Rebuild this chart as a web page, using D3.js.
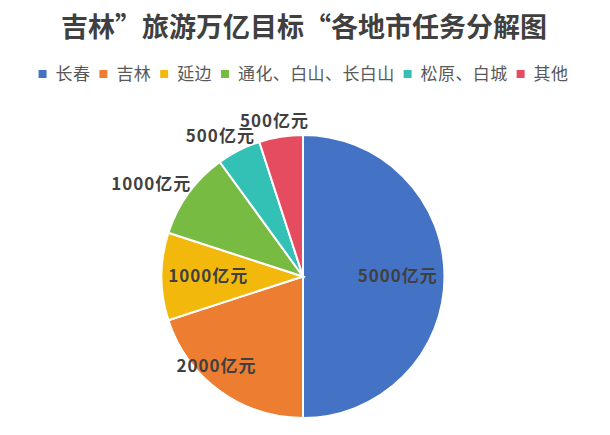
<!DOCTYPE html>
<html>
<head>
<meta charset="utf-8">
<script src="https://cdn.jsdelivr.net/npm/d3@7"></script>
<style>
  html, body { margin: 0; padding: 0; background: #fff; }
  svg { display: block; }
</style>
</head>
<body>
<svg id="chart" width="610" height="435"></svg>
<script>
const title      = '吉林”旅游万亿目标“各地市任务分解图';
const regions    = ['长春', '吉林', '延边', '通化、白山、长白山', '松原、白城', '其他'];
const targets    = [5000, 2000, 1000, 1000, 500, 500];
const colors     = ['#4472C4', '#ED7D31', '#F2B90C', '#78BB42', '#33C0B5', '#E54C5F'];
const labelModes = ['inside', 'edge', 'inside', 'outside', 'outside', 'outside'];

const width  = 610;
const height = 435;
const cx     = 303;
const cy     = 276.5;
const radius = 141.5;

const svg = d3.select('#chart');

svg.append('text')
  .attr('x', 304)
  .attr('y', 37)
  .attr('text-anchor', 'middle')
  .style('font-family', '"Noto Sans CJK SC", sans-serif')
  .style('font-size', '27px')
  .style('font-weight', 'bold')
  .style('fill', '#404040')
  .text(title);

// legend, laid out left to right then centred
const legend = svg.append('g');
let lx = 0;
regions.forEach((name, i) => {
  const item = legend.append('g').attr('transform', `translate(${lx},0)`);
  item.append('rect')
    .attr('x', 0).attr('y', -4)
    .attr('width', 8).attr('height', 8)
    .style('fill', colors[i]);
  const t = item.append('text')
    .attr('x', 17)
    .attr('y', 0)
    .attr('dy', '0.35em')
    .style('font-family', '"Noto Sans CJK SC", sans-serif')
    .style('font-size', '17px')
    .style('letter-spacing', '0.4px')
    .style('fill', '#595959')
    .text(name);
  lx += 17 + t.node().getComputedTextLength() + 9;
});
const legendWidth = lx - 9;
legend.attr('transform', `translate(${303.5 - legendWidth / 2},74)`);

const pie = d3.pie().sort(null).value(d => d);
const arcs = pie(targets);
const arc  = d3.arc().innerRadius(0).outerRadius(radius);

const g = svg.append('g').attr('transform', `translate(${cx},${cy})`);

g.selectAll('path.slice')
  .data(arcs)
  .enter()
  .append('path')
  .attr('class', 'slice')
  .attr('d', arc)
  .style('fill', (d, i) => colors[i])
  .style('stroke', '#fff')
  .style('stroke-width', 2);

const labels = g.selectAll('text.lbl')
  .data(arcs)
  .enter()
  .append('text')
  .attr('class', 'lbl')
  .attr('text-anchor', 'middle')
  .attr('dy', '0.35em')
  .style('font-family', '"Noto Sans CJK SC", sans-serif')
  .style('font-size', '17px')
  .style('font-weight', 'bold')
  .style('letter-spacing', '1px')
  .style('fill', '#404040')
  .text(d => d.value + '亿元');

labels.each(function (d, i) {
  const a = (d.startAngle + d.endAngle) / 2;
  const w = this.getComputedTextLength();
  const sx = Math.sin(a), sy = -Math.cos(a);
  let x, y;
  if (labelModes[i] === 'outside') {
    const r = radius + 6;
    x = r * sx + (w / 2) * sx;
    y = r * sy + 10 * sy;
  } else if (labelModes[i] === 'edge') {
    const r = radius * 0.8;
    x = r * sx - w * 0.25;
    y = r * sy - 2;
  } else {
    const r = radius * 0.67;
    x = r * sx;
    y = r * sy;
  }
  d3.select(this).attr('x', x).attr('y', y);
});
</script>
</body>
</html>
